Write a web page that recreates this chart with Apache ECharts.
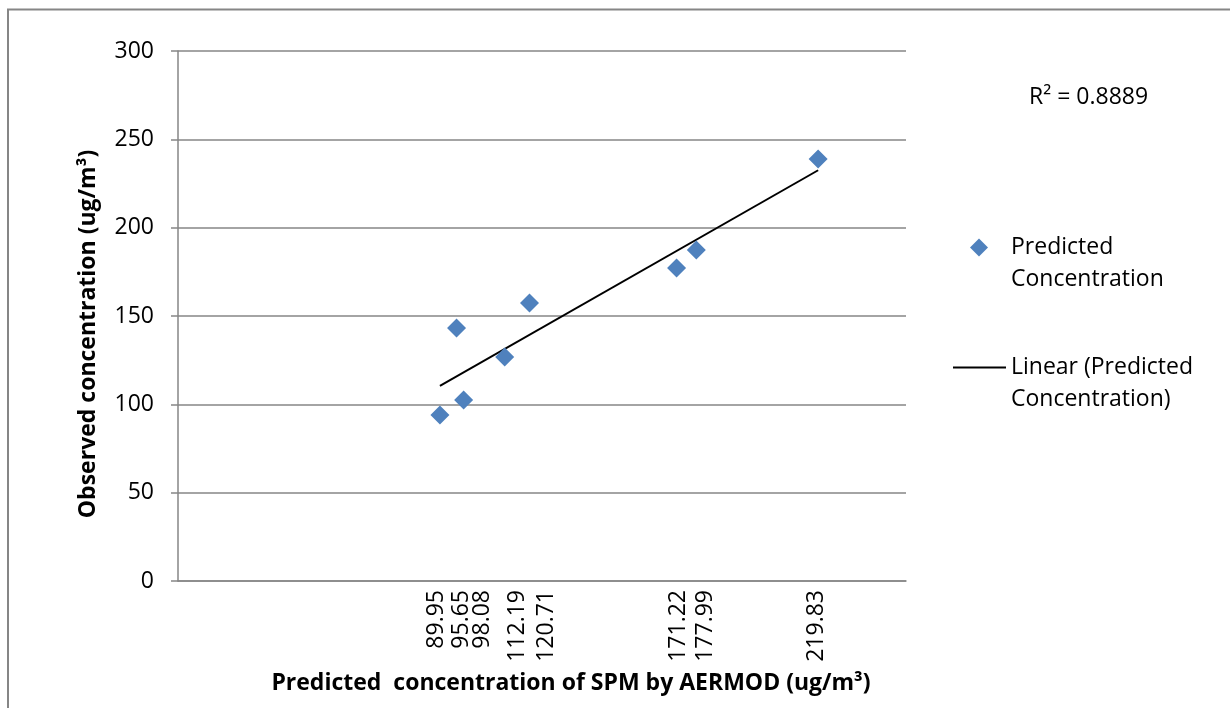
<!DOCTYPE html>
<html>
<head>
<meta charset="utf-8">
<script src="https://cdn.jsdelivr.net/npm/echarts@6/dist/echarts.min.js"></script>
<style>
  html, body { margin: 0; padding: 0; background: #fff; }
  #chart { width: 1230px; height: 708px; }
</style>
</head>
<body>
<div id="chart"></div>
<script>
// predicted (AERMOD) vs observed SPM
var predicted = [89.95, 95.65, 98.08, 112.19, 120.71, 171.22, 177.99, 219.83];
var observed = [94, 143.2, 102.5, 126.8, 157.4, 177.2, 187.4, 238.9];
// linear trendline ends
var trendX = [89.95, 219.83];
var trendY = [110.5, 232.5];
var yTicks = [0, 50, 100, 150, 200, 250, 300];
var rSquared = '0.8889';
// where the x labels sit (axis units): spread apart like in the original so they don't collide
// leading 0 is a blank slot, otherwise echarts drops the 2nd label
var xLabelSlots = [0, 88.9, 97.2, 104.7, 116.4, 126.7, 172.0, 181.3, 219.4];

var FONT = '"Open Sans", sans-serif';
var GRAY = '#868686';
var BLUE = '#4F81BD';

function legendStyle(padLeft) {
    var line = { fontFamily: FONT, fontSize: 23, color: '#000', lineHeight: 32, padding: [32, 0, 0, 0] };
    return {
        fontFamily: FONT, fontSize: 23, color: '#000', lineHeight: 32,
        padding: [0, 0, 0, padLeft],
        rich: { a: line, b: line }
    };
}

var chart = echarts.init(document.getElementById('chart'));

chart.setOption({
    animation: false,
    textStyle: { fontFamily: FONT, color: '#000' },
    grid: { left: 178, right: 324, top: 51, bottom: 127 },
    xAxis: [
        {
            type: 'value',
            min: 0,
            max: 250,
            name: 'Predicted  concentration of SPM by AERMOD (ug/m³)',
            nameLocation: 'middle',
            nameGap: 91,
            nameTextStyle: { fontFamily: FONT, fontSize: 23, fontWeight: 'bold', color: '#000', padding: [0, 0, 0, 58] },
            axisLine: { show: true, onZero: false, lineStyle: { color: GRAY, width: 1.5 } },
            axisTick: { show: false },
            splitLine: { show: false },
            axisLabel: { show: false }
        },
        {
            // label-only axis carrying the predicted values
            type: 'value',
            position: 'bottom',
            min: 0,
            max: 250,
            axisLine: { show: false },
            axisTick: { show: false },
            splitLine: { show: false },
            axisLabel: {
                customValues: xLabelSlots,
                rotate: 90,
                margin: 9,
                interval: 0,
                hideOverlap: false,
                showMinLabel: true,
                showMaxLabel: true,
                fontSize: 23,
                fontFamily: FONT,
                color: '#000',
                formatter: function (v, i) {
                    var idx = xLabelSlots.indexOf(v) - 1;
                    return idx < 0 ? '' : predicted[idx].toFixed(2);
                }
            }
        }
    ],
    yAxis: {
        type: 'value',
        min: yTicks[0],
        max: yTicks[yTicks.length - 1],
        interval: 50,
        name: 'Observed concentration (ug/m³)',
        nameLocation: 'middle',
        nameGap: 78,
        nameTextStyle: { fontFamily: FONT, fontSize: 23, fontWeight: 'bold', color: '#000', padding: [0, 36, 0, 0] },
        axisLine: { show: true, lineStyle: { color: GRAY, width: 1.5 } },
        axisTick: { show: true, inside: false, length: 7, lineStyle: { color: GRAY, width: 1.5 } },
        splitLine: { show: true, lineStyle: { color: GRAY, width: 1.5 } },
        axisLabel: { margin: 24, fontSize: 23, fontFamily: FONT, color: '#000' }
    },
    legend: [
        {
            orient: 'vertical',
            left: 970,
            top: 204,
            padding: 0,
            itemWidth: 18,
            itemHeight: 18,
            textStyle: legendStyle(18),
            formatter: function () { return '{a|Predicted}\n{b|Concentration}'; },
            data: [{ name: 'Predicted Concentration', icon: 'diamond' }]
        },
        {
            orient: 'vertical',
            left: 953,
            top: 324,
            padding: 0,
            itemWidth: 53,
            itemHeight: 2,
            textStyle: legendStyle(0),
            formatter: function () { return '{a|Linear (Predicted}\n{b|Concentration)}'; },
            data: [{ name: 'Linear (Predicted Concentration)', icon: 'rect' }]
        }
    ],
    graphic: [
        {
            type: 'polyline',
            shape: { points: [[8, 708], [8, 9.5], [1230, 9.5]] },
            style: { stroke: GRAY, lineWidth: 2, fill: null }
        },
        {
            type: 'text',
            left: 1029,
            top: 86,
            style: { text: 'R² = ' + rSquared, font: '23px ' + FONT, fill: '#000' }
        }
    ],
    series: [
        {
            name: 'Predicted Concentration',
            type: 'scatter',
            symbol: 'diamond',
            symbolSize: 19,
            itemStyle: { color: BLUE, opacity: 1 },
            data: predicted.map(function (x, i) { return [x, observed[i]]; }),
            z: 3
        },
        {
            name: 'Linear (Predicted Concentration)',
            type: 'line',
            symbol: 'none',
            itemStyle: { color: '#000' },
            lineStyle: { color: '#000', width: 2 },
            data: trendX.map(function (x, i) { return [x, trendY[i]]; }),
            z: 2
        }
    ]
});
</script>
</body>
</html>
